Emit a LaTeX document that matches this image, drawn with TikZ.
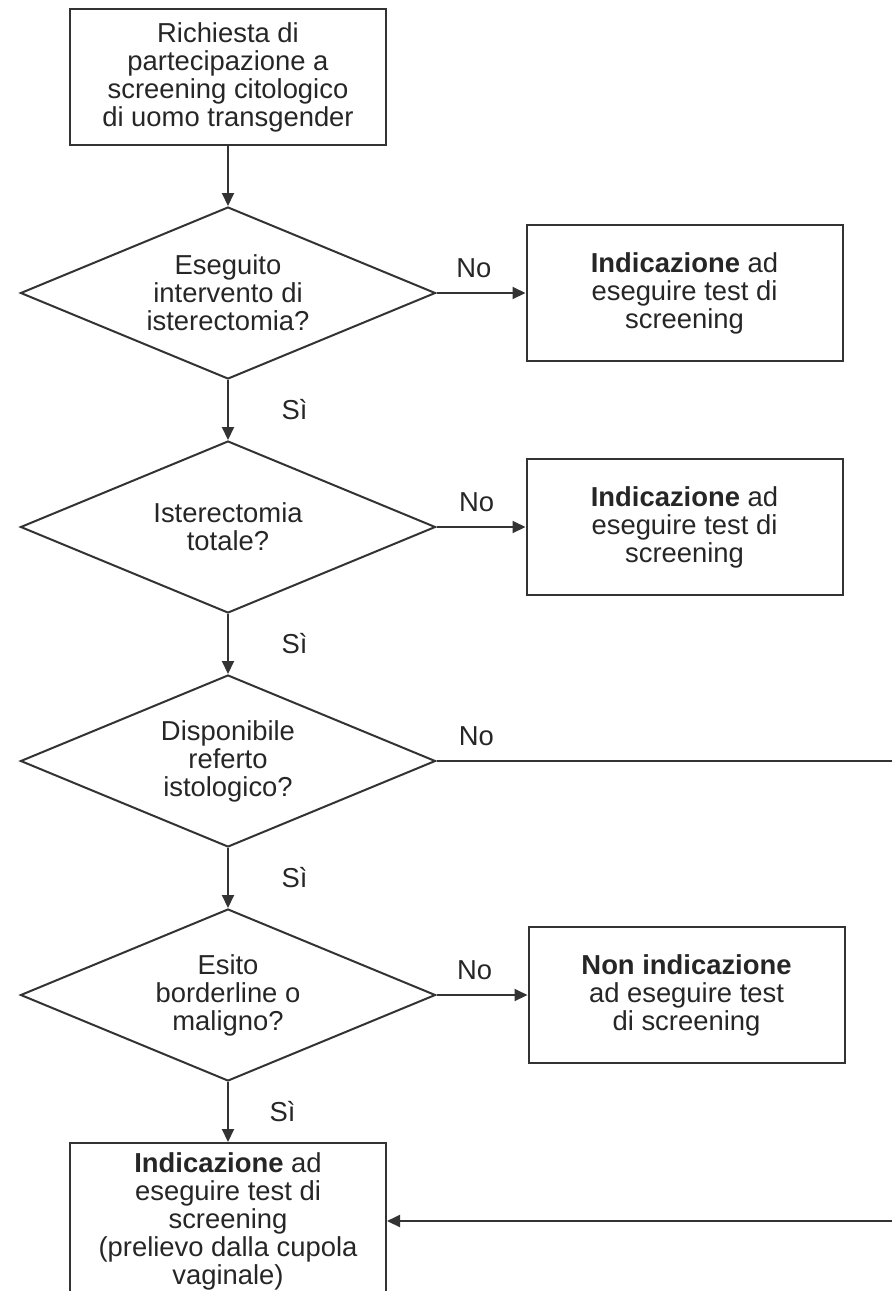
\documentclass[tikz,border=0pt]{standalone}
\usepackage{fontspec}
\setmainfont{Liberation Sans}
\usepackage{tikz}
\usetikzlibrary{arrows.meta,shapes.geometric,positioning}

\begin{document}
\begin{tikzpicture}[x=0.5pt,y=-0.5pt,->,>={Triangle[length=6.5pt,width=6pt]},black!80,line width=1pt,node distance=30pt,font=\fontsize{13.7}{14}\selectfont]
		\tikzstyle{box}=[draw,rectangle,align=center,minimum width=158pt,minimum height=68pt,inner sep=2pt,text=black!85]
		\tikzstyle{decision}=[draw,diamond,aspect=2.44,align=center,minimum width=207.5pt,minimum height=86pt,inner sep=0pt,text=black!85]
		\tikzstyle{lbl}=[text=black!85]

		\useasboundingbox (0,0) rectangle (892,1291);

		\node[box] (req) at (228,77) {Richiesta di\\partecipazione a\\screening citologico\\di uomo transgender};
		\node[decision] (isto) [below=of req] {Eseguito\\intervento di\\isterectomia?};
		\node[box] (isto-no) [right=44.5pt of isto] {\textbf{Indicazione} ad\\eseguire test di\\screening};
		\node[decision] (tot) [below=of isto] {Isterectomia\\totale?};
		\node[box] (tot-no) [right=44.5pt of tot] {\textbf{Indicazione} ad\\eseguire test di\\screening};
		\node[decision] (ref) [below=of tot] {Disponibile\\referto\\istologico?};
		\node[decision] (esito) [below=of ref] {Esito\\borderline o\\maligno?};
		\node[box] (esito-no) [right=45.5pt of esito] {\textbf{Non indicazione}\\ad eseguire test\\di screening};
		\node[box,minimum height=78pt] (prel) [below=of esito] {\textbf{Indicazione} ad\\eseguire test di\\screening\\(prelievo dalla cupola\\vaginale)};
		\coordinate (edge) at (900,0);

		\path (req) edge (isto);
		\path (isto) edge node[lbl,above=4pt,pos=0.42] {No} (isto-no);
		\path (isto) edge node[lbl,right=23pt] {Sì} (tot);
		\path (tot) edge node[lbl,above=4pt,pos=0.45] {No} (tot-no);
		\path (tot) edge node[lbl,right=23pt] {Sì} (ref);
		\path (ref) edge node[lbl,right=23pt] {Sì} (esito);
		\path (esito) edge node[lbl,above=4pt,pos=0.42] {No} (esito-no);
		\path (esito) edge node[lbl,right=17pt] {Sì} (prel);

		\draw (ref.east) -- node[lbl,above=4pt,pos=0.086] {No} (ref.east -| edge) |- (prel.east);
	\end{tikzpicture}
\end{document}
